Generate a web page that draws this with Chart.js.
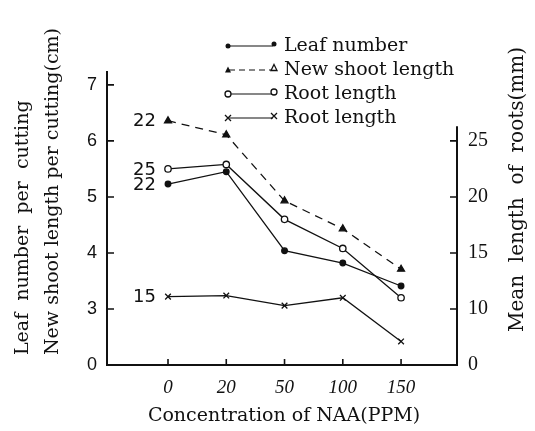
<!DOCTYPE html>
<html>
<head>
<meta charset="utf-8">
<script src="https://cdn.jsdelivr.net/npm/chart.js@4.4.1/dist/chart.umd.min.js"></script>
<style>
  html, body { margin: 0; padding: 0; background: #fff; }
  canvas { display: block; }
</style>
</head>
<body>
<canvas id="chart" width="535" height="431"></canvas>
<script>
// data
const concentrations = ['0', '20', '50', '100', '150'];
// left axis (leaf number, cm)
const leafNumber = [5.23, 5.45, 4.04, 3.82, 3.41];
const shootLength = [6.36, 6.11, 4.93, 4.43, 3.71];
// right axis (mm)
const rootLength = [22.5, 22.9, 18.0, 15.4, 11.0];
const rootLength2 = [11.1, 11.2, 10.3, 11.0, 7.1];
const startLabels = ['22', '22', '25', '15'];

// the axes are broken at the bottom: first tick is printed as 0
const leftTicks = [2, 3, 4, 5, 6, 7];
const leftTickLabels = ['0', '3', '4', '5', '6', '7'];
const rightTicks = [5, 10, 15, 20, 25];
const rightTickLabels = ['0', '10', '15', '20', '25'];

const ink = '#111';
const serif = 'DejaVu Serif';

function pts(arr) {
    return arr.map((v, i) => ({x: i, y: v}));
}

// little marker drawer for the legend
function marker(ctx, style, x, y, filled) {
    ctx.save();
    ctx.fillStyle = ink;
    ctx.strokeStyle = ink;
    ctx.lineWidth = 1.3;
    ctx.beginPath();
    if (style == 'circle') {
        ctx.arc(x, y, filled ? 2.5 : 3, 0, Math.PI * 2);
        if (filled) ctx.fill(); else { ctx.fillStyle = '#fff'; ctx.fill(); ctx.stroke(); }
    } else if (style == 'triangle') {
        ctx.moveTo(x, y - 3.5);
        ctx.lineTo(x + 3, y + 2.5);
        ctx.lineTo(x - 3, y + 2.5);
        ctx.closePath();
        if (filled) ctx.fill(); else { ctx.fillStyle = '#fff'; ctx.fill(); ctx.stroke(); }
    } else {
        ctx.moveTo(x - 3, y - 3); ctx.lineTo(x + 3, y + 3);
        ctx.moveTo(x + 3, y - 3); ctx.lineTo(x - 3, y + 3);
        ctx.stroke();
    }
    ctx.restore();
}

const extras = {
    id: 'extras',
    afterDraw(chart) {
        const ctx = chart.ctx;
        const xs = chart.scales.x, yl = chart.scales.yLeft, yr = chart.scales.yRight;
        const area = chart.chartArea;
        ctx.save();
        ctx.strokeStyle = ink;
        ctx.fillStyle = ink;

        // right axis line (shorter than the left one)
        ctx.lineWidth = 2;
        ctx.beginPath();
        ctx.moveTo(area.right, yr.getPixelForValue(26.3));
        ctx.lineTo(area.right, area.bottom + 1);
        ctx.stroke();

        // inward tick marks
        ctx.lineWidth = 1.6;
        ctx.beginPath();
        leftTicks.slice(1).forEach(v => {
            const y = yl.getPixelForValue(v);
            ctx.moveTo(area.left, y); ctx.lineTo(area.left + 7, y);
        });
        rightTicks.slice(1).forEach(v => {
            const y = yr.getPixelForValue(v);
            ctx.moveTo(area.right, y); ctx.lineTo(area.right - 7, y);
        });
        concentrations.forEach((c, i) => {
            const x = xs.getPixelForValue(i);
            ctx.moveTo(x, area.bottom); ctx.lineTo(x, area.bottom - 6);
        });
        ctx.stroke();

        // numbers in front of the first points
        ctx.font = '18px "DejaVu Sans"';
        ctx.textAlign = 'right';
        ctx.textBaseline = 'middle';
        chart.data.datasets.forEach((ds, i) => {
            const p = chart.getDatasetMeta(i).data[0];
            ctx.fillText(startLabels[i], p.x - 12, p.y + 1);
        });

        // legend
        const items = [
            {text: 'Leaf number', style: 'circle', dash: [], ends: [true, true]},
            {text: 'New shoot length', style: 'triangle', dash: [6, 4], ends: [true, false]},
            {text: 'Root length', style: 'circle', dash: [], ends: [false, false]},
            {text: 'Root length', style: 'cross', dash: [], ends: [true, true]}
        ];
        ctx.font = '19px "' + serif + '"';
        ctx.textAlign = 'left';
        items.forEach((it, i) => {
            const y = 46 + i * 24;
            ctx.lineWidth = 1.2;
            ctx.setLineDash(it.dash);
            ctx.beginPath();
            ctx.moveTo(229, y); ctx.lineTo(273, y);
            ctx.stroke();
            ctx.setLineDash([]);
            marker(ctx, it.style, 228, y, it.ends[0]);
            marker(ctx, it.style, 274, y - 2, it.ends[1]);
            ctx.fillText(it.text, 284, y);
        });

        // axis titles
        ctx.font = '19px "' + serif + '"';
        ctx.textBaseline = 'middle';
        ctx.textAlign = 'center';
        ctx.fillText('Concentration of NAA(PPM)', 284, 416);

        ctx.save();
        ctx.translate(23, 355);
        ctx.rotate(-Math.PI / 2);
        ctx.textAlign = 'left';
        ctx.fillText('Leaf  number  per  cutting', 0, 0);
        ctx.restore();

        ctx.save();
        ctx.translate(53, 355);
        ctx.rotate(-Math.PI / 2);
        ctx.textAlign = 'left';
        ctx.fillText('New shoot length per cutting(cm)', 0, 0);
        ctx.restore();

        ctx.save();
        ctx.font = '20px "' + serif + '"';
        ctx.translate(518, 332);
        ctx.rotate(-Math.PI / 2);
        ctx.textAlign = 'left';
        ctx.fillText('Mean  length  of  roots(mm)', 0, 0);
        ctx.restore();

        ctx.restore();
    }
};

const lineBase = {
    borderColor: ink,
    borderWidth: 1.3,
    pointBorderColor: ink,
    pointBorderWidth: 1.3,
    tension: 0,
    fill: false
};

new Chart(document.getElementById('chart'), {
    type: 'line',
    data: {
        datasets: [
            Object.assign({}, lineBase, {
                label: 'New shoot length', data: pts(shootLength), yAxisID: 'yLeft',
                borderDash: [8, 6], pointStyle: 'triangle', pointRadius: 4, pointBackgroundColor: ink
            }),
            Object.assign({}, lineBase, {
                label: 'Leaf number', data: pts(leafNumber), yAxisID: 'yLeft',
                pointStyle: 'circle', pointRadius: 2.8, pointBackgroundColor: ink
            }),
            Object.assign({}, lineBase, {
                label: 'Root length', data: pts(rootLength), yAxisID: 'yRight',
                pointStyle: 'circle', pointRadius: 3.2, pointBackgroundColor: '#fff'
            }),
            Object.assign({}, lineBase, {
                label: 'Root length', data: pts(rootLength2), yAxisID: 'yRight',
                pointStyle: 'crossRot', pointRadius: 4, pointBackgroundColor: ink
            })
        ]
    },
    options: {
        responsive: false,
        animation: false,
        layout: {padding: {top: 72}},
        plugins: {legend: {display: false}, tooltip: {enabled: false}},
        scales: {
            x: {
                type: 'linear',
                min: -1.047,
                max: 4.96,
                afterBuildTicks: s => { s.ticks = concentrations.map((c, i) => ({value: i})); },
                afterFit: s => { s.height = 66; },
                ticks: {
                    callback: v => concentrations[v],
                    color: ink,
                    padding: 12,
                    maxRotation: 0,
                    font: {family: 'Liberation Serif', size: 19, style: 'italic'}
                },
                grid: {display: false, drawTicks: false},
                border: {display: true, color: ink, width: 2}
            },
            yLeft: {
                position: 'left',
                min: 2,
                max: 7.23,
                afterBuildTicks: s => { s.ticks = leftTicks.map(v => ({value: v})); },
                afterFit: s => { s.width = 107; },
                ticks: {
                    callback: v => leftTickLabels[leftTicks.indexOf(v)],
                    color: ink,
                    padding: 10,
                    font: {family: 'Liberation Sans', size: 18}
                },
                grid: {display: false, drawTicks: false},
                border: {display: true, color: ink, width: 2}
            },
            yRight: {
                position: 'right',
                min: 5,
                max: 31.15,
                afterBuildTicks: s => { s.ticks = rightTicks.map(v => ({value: v})); },
                afterFit: s => { s.width = 78; },
                ticks: {
                    callback: v => rightTickLabels[rightTicks.indexOf(v)],
                    color: ink,
                    padding: 11,
                    font: {family: 'Liberation Serif', size: 20}
                },
                grid: {display: false, drawTicks: false},
                border: {display: false}
            }
        }
    },
    plugins: [extras]
});
</script>
</body>
</html>
